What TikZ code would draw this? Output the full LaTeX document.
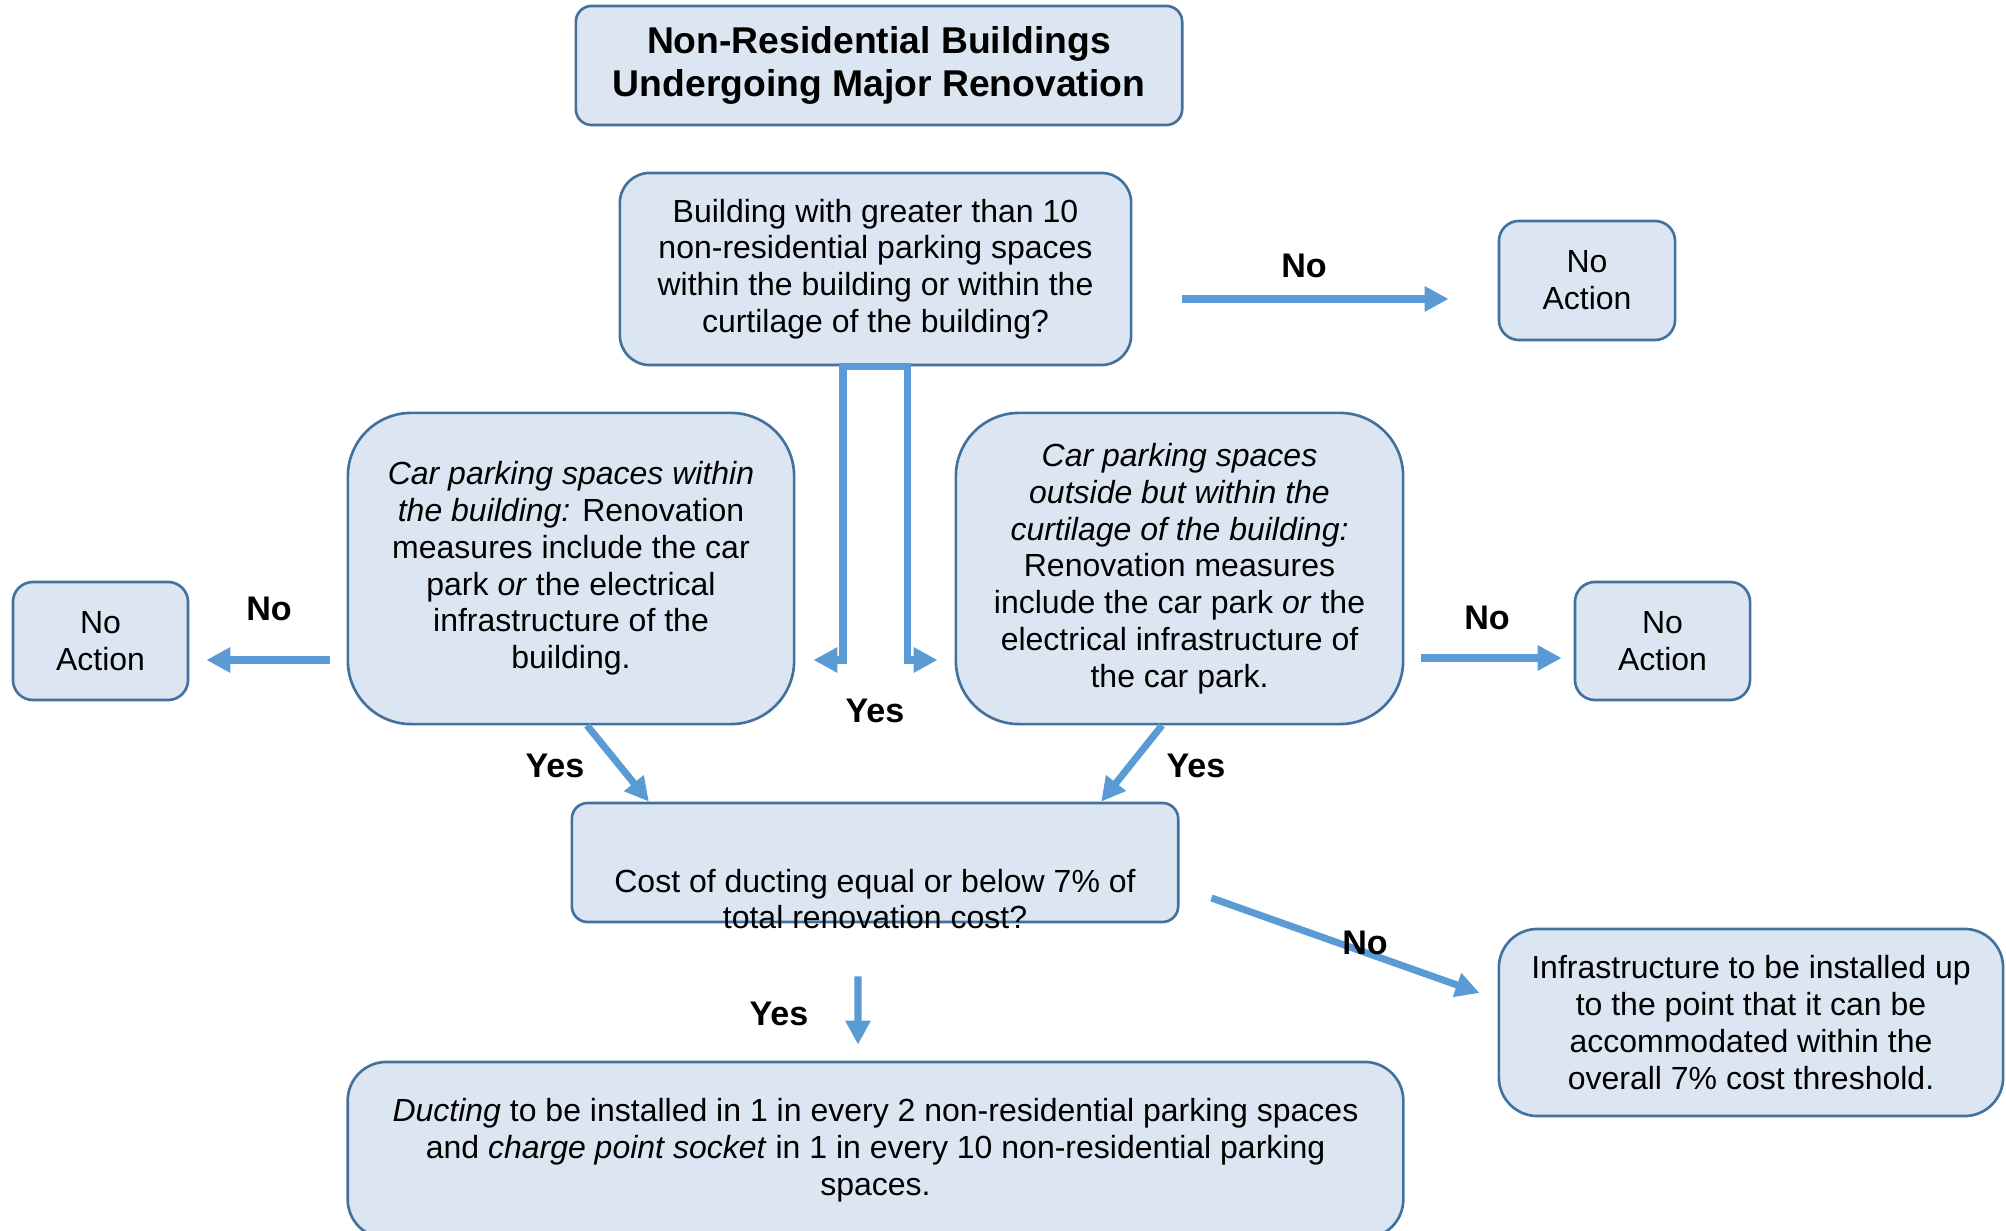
\documentclass[tikz,border=0pt]{standalone}
\usepackage{fontspec}
\setmainfont{Liberation Sans}
\usetikzlibrary{arrows.meta, positioning, calc}
\definecolor{boxfill}{RGB}{220,230,242}
\definecolor{boxline}{RGB}{65,113,156}
\definecolor{flow}{RGB}{91,155,213}

\begin{document}
\begin{tikzpicture}[x=0.01cm, y=-0.01cm, >={Triangle[length=6.8pt, width=6.8pt]},
    boxtext/.style={align=center, inner sep=0pt, font=\fontsize{9.1}{10.45}\selectfont},
    box/.style={boxtext, draw=boxline, fill=boxfill, line width=0.75pt},
    flowline/.style={draw=flow, line width=2pt, ->},
    answer/.style={inner sep=0pt, font=\fontsize{9.7}{11}\selectfont\bfseries}]
    \useasboundingbox (0,0) rectangle (2006,1231);

    \node[box, minimum width=6.06cm, minimum height=1.19cm, rounded corners=4.5pt, font=\fontsize{10.6}{12.4}\selectfont\bfseries] (title) at (879,65.5) {Non-Residential Buildings\\Undergoing Major Renovation};
    \node[box, minimum width=5.11cm, minimum height=1.92cm, rounded corners=8.5pt] (q1) at (875.5,269) {Building with greater than 10\\non-residential parking spaces\\within the building or within the\\curtilage of the building?};
    \node[box, minimum width=1.76cm, minimum height=1.19cm, rounded corners=5.7pt] (noactA) at (1587,280.5) {No\\Action};

    \node[box, minimum width=4.46cm, minimum height=3.11cm, rounded corners=18pt] (inside) at (571,568.5) {\textit{Car parking spaces within}\\\textit{the building:} Renovation\\measures include the car\\park \textit{or} the electrical\\infrastructure of the\\building.};
    \node[box, minimum width=4.47cm, minimum height=3.11cm, rounded corners=18pt] (curtilage) at (1179.5,568.5) {\textit{Car parking spaces}\\\textit{outside but within the}\\\textit{curtilage of the building:}\\Renovation measures\\include the car park \textit{or} the\\electrical infrastructure of\\the car park.};
    \node[box, minimum width=1.75cm, minimum height=1.18cm, rounded corners=5.7pt] (noactB) at (100.5,641) {No\\Action};
    \node[box, minimum width=1.75cm, minimum height=1.18cm, rounded corners=5.7pt] (noactC) at (1662.5,641) {No\\Action};

    \node[box, minimum width=6.06cm, minimum height=1.19cm, rounded corners=4.5pt] (cost) at (875,862.5) {};
    \node[boxtext] (costtext) at (875,899) {Cost of ducting equal or below 7\% of\\total renovation cost?};
    \node[box, minimum width=5.04cm, minimum height=1.87cm, rounded corners=11pt] (infra) at (1751,1022.5) {Infrastructure to be installed up\\to the point that it can be\\accommodated within the\\overall 7\% cost threshold.};
    \node[box, minimum width=10.55cm, minimum height=1.76cm, rounded corners=11pt] (ducting) at (875.5,1150) {\textit{Ducting} to be installed in 1 in every 2 non-residential parking spaces\\and \textit{charge point socket} in 1 in every 10 non-residential parking\\spaces.};

    \coordinate (rowA) at (0,299);
    \coordinate (rowB) at (0,660);
    \coordinate (rowC) at (0,658);
    \coordinate (forkL) at ([xshift=-3.25mm]q1.south);
    \coordinate (forkR) at ([xshift=3.15mm]q1.south);

    \draw[flowline] ([xshift=4.9mm]q1.east |- rowA) -- ([xshift=-4.9mm]noactA.west |- rowA);
    \draw[flowline, <->, line join=miter] ([xshift=1.8mm]inside.east |- rowB) -| (forkL) -- (forkR) |- ([xshift=-1.7mm]curtilage.west |- rowB);
    \draw[flowline] ([xshift=-1.7mm]inside.west |- rowB) -- ([xshift=1.7mm]noactB.east |- rowB);
    \draw[flowline] ([xshift=1.7mm]curtilage.east |- rowC) -- ([xshift=-1.2mm]noactC.west |- rowC);
    \draw[flowline] ([xshift=1.6mm]inside.south) -- ([xshift=-2.26cm]cost.north);
    \draw[flowline] ([xshift=-1.75mm]curtilage.south) -- ([xshift=2.26cm]cost.north);
    \draw[flowline] ([xshift=3.2mm, yshift=-3.55mm]cost.east) -- ([xshift=-1.8mm, yshift=2.95mm]infra.west);
    \draw[flowline] ([xshift=-1.7mm, yshift=-5.3mm]cost.south) -- ([xshift=-1.75mm, yshift=1.6mm]ducting.north);

    \node[answer] (noA) at (1304,266) {No};
    \node[answer] (yesFork) at (875,711) {Yes};
    \node[answer] (noB) at (269,609) {No};
    \node[answer] (noC) at (1487,618) {No};
    \node[answer] (yesB) at (555,766) {Yes};
    \node[answer] (yesC) at (1196,766) {Yes};
    \node[answer] (noCost) at (1365,943) {No};
    \node[answer] (yesCost) at (779,1014) {Yes};
\end{tikzpicture}
\end{document}
